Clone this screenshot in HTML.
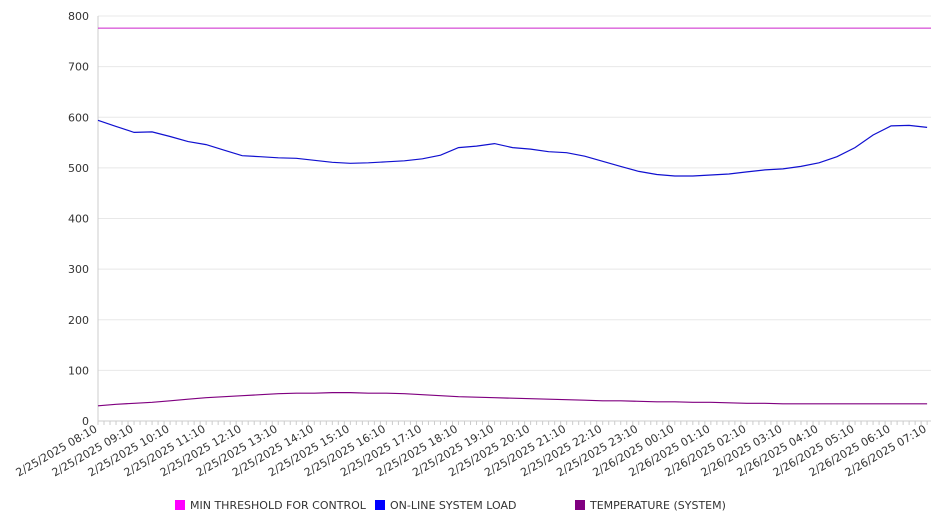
<!DOCTYPE html>
<html><head><meta charset="utf-8"><style>
body{margin:0;background:#fff;font-family:"DejaVu Sans","Liberation Sans",sans-serif}
svg text{font-family:"DejaVu Sans","Liberation Sans",sans-serif;fill:#333}
</style></head><body>
<svg id="chart" width="946" height="526" xmlns="http://www.w3.org/2000/svg"></svg>
<script>
const timeLabels=["2/25/2025 08:10","2/25/2025 09:10","2/25/2025 10:10","2/25/2025 11:10","2/25/2025 12:10","2/25/2025 13:10","2/25/2025 14:10","2/25/2025 15:10","2/25/2025 16:10","2/25/2025 17:10","2/25/2025 18:10","2/25/2025 19:10","2/25/2025 20:10","2/25/2025 21:10","2/25/2025 22:10","2/25/2025 23:10","2/26/2025 00:10","2/26/2025 01:10","2/26/2025 02:10","2/26/2025 03:10","2/26/2025 04:10","2/26/2025 05:10","2/26/2025 06:10","2/26/2025 07:10"];
const yTicks=[0,100,200,300,400,500,600,700,800];
const threshold=[776,776];
const loadValues=[594,582,570,571,562,552,546,535,524,522,520,519,515,511,509,510,512,514,518,525,540,543,548,540,537,532,530,523,513,503,493,487,484,484,486,488,492,496,498,503,510,522,540,565,583,584,580];
const tempValues=[30,33,35,37,40,43,46,48,50,52,54,55,55,56,56,55,55,54,52,50,48,47,46,45,44,43,42,41,40,40,39,38,38,37,37,36,35,35,34,34,34,34,34,34,34,34,34];
const NS="http://www.w3.org/2000/svg",svg=document.getElementById('chart');
const X0=98,X1=931,Y0=421,Y1=16,hourPx=36.05;
const yS=v=>Y0-(v/800)*(Y0-Y1);
const xHalf=i=>X0+i*hourPx/2;
function mk(t,a){const e=document.createElementNS(NS,t);for(const k in a)e.setAttribute(k,a[k]);svg.appendChild(e);return e;}
yTicks.forEach(v=>{
 const g=mk('line',{x1:X0,x2:X1,y1:yS(v),y2:yS(v),stroke:v===0?'#ccc':'#e8e8e8'});
 
 
 const t=mk('text',{x:89,y:yS(v)+4,'text-anchor':'end','font-size':11});
 t.textContent=v;
 
 
});
const ax=mk('line',{x1:X0,x2:X0,y1:Y1,y2:Y0,stroke:'#ccc'});


for(let x=X0;x<=X1;x+=hourPx/6){const tk=mk('line',{x1:x,x2:x,y1:Y0,y2:Y0+4,stroke:'#ccc'});
 
 }
timeLabels.forEach((l,i)=>{
 const x=X0+i*hourPx;
 const t=mk('text',{x:x,y:Y0+10,'text-anchor':'end','font-size':11,transform:`rotate(-30 ${x} ${Y0+10})`});
 t.textContent=l;
 
 
});
const th=mk('line',{x1:X0,x2:X1,y1:yS(threshold[0]),y2:yS(threshold[1]),stroke:'#cc22cc','stroke-width':1});


function series(vals,color,name){
 const p=mk('polyline',{points:vals.map((v,i)=>xHalf(i).toFixed(1)+','+yS(v).toFixed(1)).join(' '),fill:'none',stroke:color,'stroke-width':1.2});
 
 
}
series(loadValues,'#1010d0','online-system-load-line');
series(tempValues,'#800080','temperature-line');
[['MIN THRESHOLD FOR CONTROL','#ff00ff',175],['ON-LINE SYSTEM LOAD','#0000ff',375],['TEMPERATURE (SYSTEM)','#800080',575]].forEach(([n,c,x])=>{
 const r=mk('rect',{x:x,y:500,width:10,height:10,fill:c});
 
 
 const t=mk('text',{x:x+15,y:509,'font-size':11});
 t.textContent=n;
 
 
});
</script>
</body></html>
